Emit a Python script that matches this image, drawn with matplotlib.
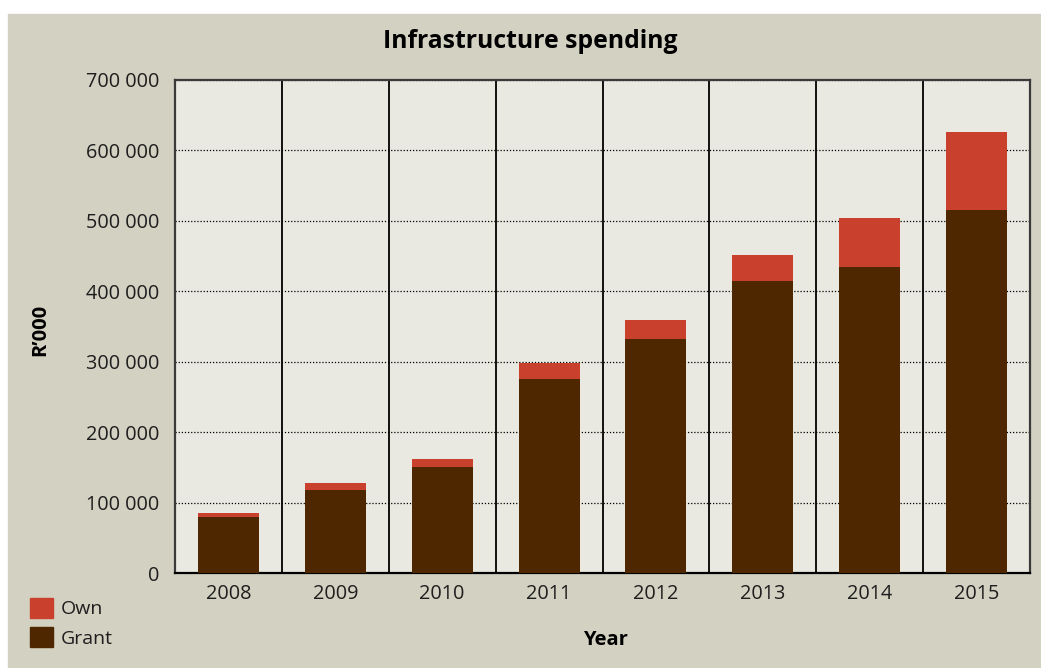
import matplotlib.pyplot as plt
from matplotlib.patches import Rectangle, Patch
from matplotlib.ticker import FuncFormatter, MultipleLocator

# Infrastructure spending by year, R'000
years = ['2008', '2009', '2010', '2011', '2012', '2013', '2014', '2015']
grant = [79500, 118000, 151000, 276000, 332500, 415000, 434000, 516000]
own = [6000, 10000, 11500, 22500, 27000, 37000, 70500, 110500]

OWN_COLOR = '#C9412D'
GRANT_COLOR = '#4E2700'
PANEL = '#D3D1C2'
PLOT_BG = '#EAE9E1'

plt.rcParams['font.family'] = ['Open Sans', 'DejaVu Sans']

fig = plt.figure(figsize=(10.41, 6.68), dpi=100, facecolor='white')
# beige panel behind the chart, leaving a thin white margin top-left
fig.patches.append(Rectangle((8 / 1041, 0), 1, 1 - 14 / 668,
                             transform=fig.transFigure, color=PANEL, zorder=-1))

ax = fig.add_axes([175 / 1041, 1 - 573.3 / 668, 855 / 1041, 493.3 / 668])
ax.set_facecolor(PLOT_BG)

x = range(len(years))
ax.bar(x, grant, width=0.57, color=GRANT_COLOR, zorder=3)
ax.bar(x, own, width=0.57, bottom=grant, color=OWN_COLOR, zorder=3)

ax.set_xlim(-0.5, len(years) - 0.5)
ax.set_ylim(0, 700000)
ax.yaxis.set_major_locator(MultipleLocator(100000))
ax.yaxis.set_major_formatter(FuncFormatter(lambda v, p: f'{int(v):,}'.replace(',', ' ')))
ax.set_xticks(list(x))
ax.set_xticklabels(years)

# dotted horizontal grid, solid dividers between years
ax.grid(axis='y', linestyle=(0, (1, 1.5)), color='black', linewidth=0.9, zorder=1)
for b in range(1, len(years)):
    ax.axvline(b - 0.5, color='black', linewidth=1.3, zorder=2)

for s in ax.spines.values():
    s.set_color('#3a3a3a')
    s.set_linewidth(1.6)
ax.spines['bottom'].set_color('black')

ax.tick_params(axis='both', length=0, labelsize=14.3, colors='#1e1e1e')
ax.tick_params(axis='y', pad=11)
ax.tick_params(axis='x', pad=8)

fig.text(530 / 1041, 1 - 42 / 668, 'Infrastructure spending', ha='center', va='center',
         fontsize=17.8, fontweight='bold', color='black')
fig.text(40 / 1041, 1 - 330 / 668, 'R\u2019000', ha='center', va='center', rotation=90,
         fontsize=14.5, fontweight='bold', color='black')
fig.text(605 / 1041, 1 - 640 / 668, 'Year', ha='center', va='center',
         fontsize=14.5, fontweight='bold', color='black')

handles = [Patch(color=OWN_COLOR, label='Own'), Patch(color=GRANT_COLOR, label='Grant')]
fig.legend(handles=handles, loc='upper left', bbox_to_anchor=(20 / 1041, 1 - 588 / 668),
           frameon=False, fontsize=14, handlelength=1.2, handleheight=1.2,
           handletextpad=0.4, labelspacing=0.45, borderpad=0, labelcolor='#1e1e1e')

plt.savefig('out.png', dpi=100, facecolor=fig.get_facecolor())
